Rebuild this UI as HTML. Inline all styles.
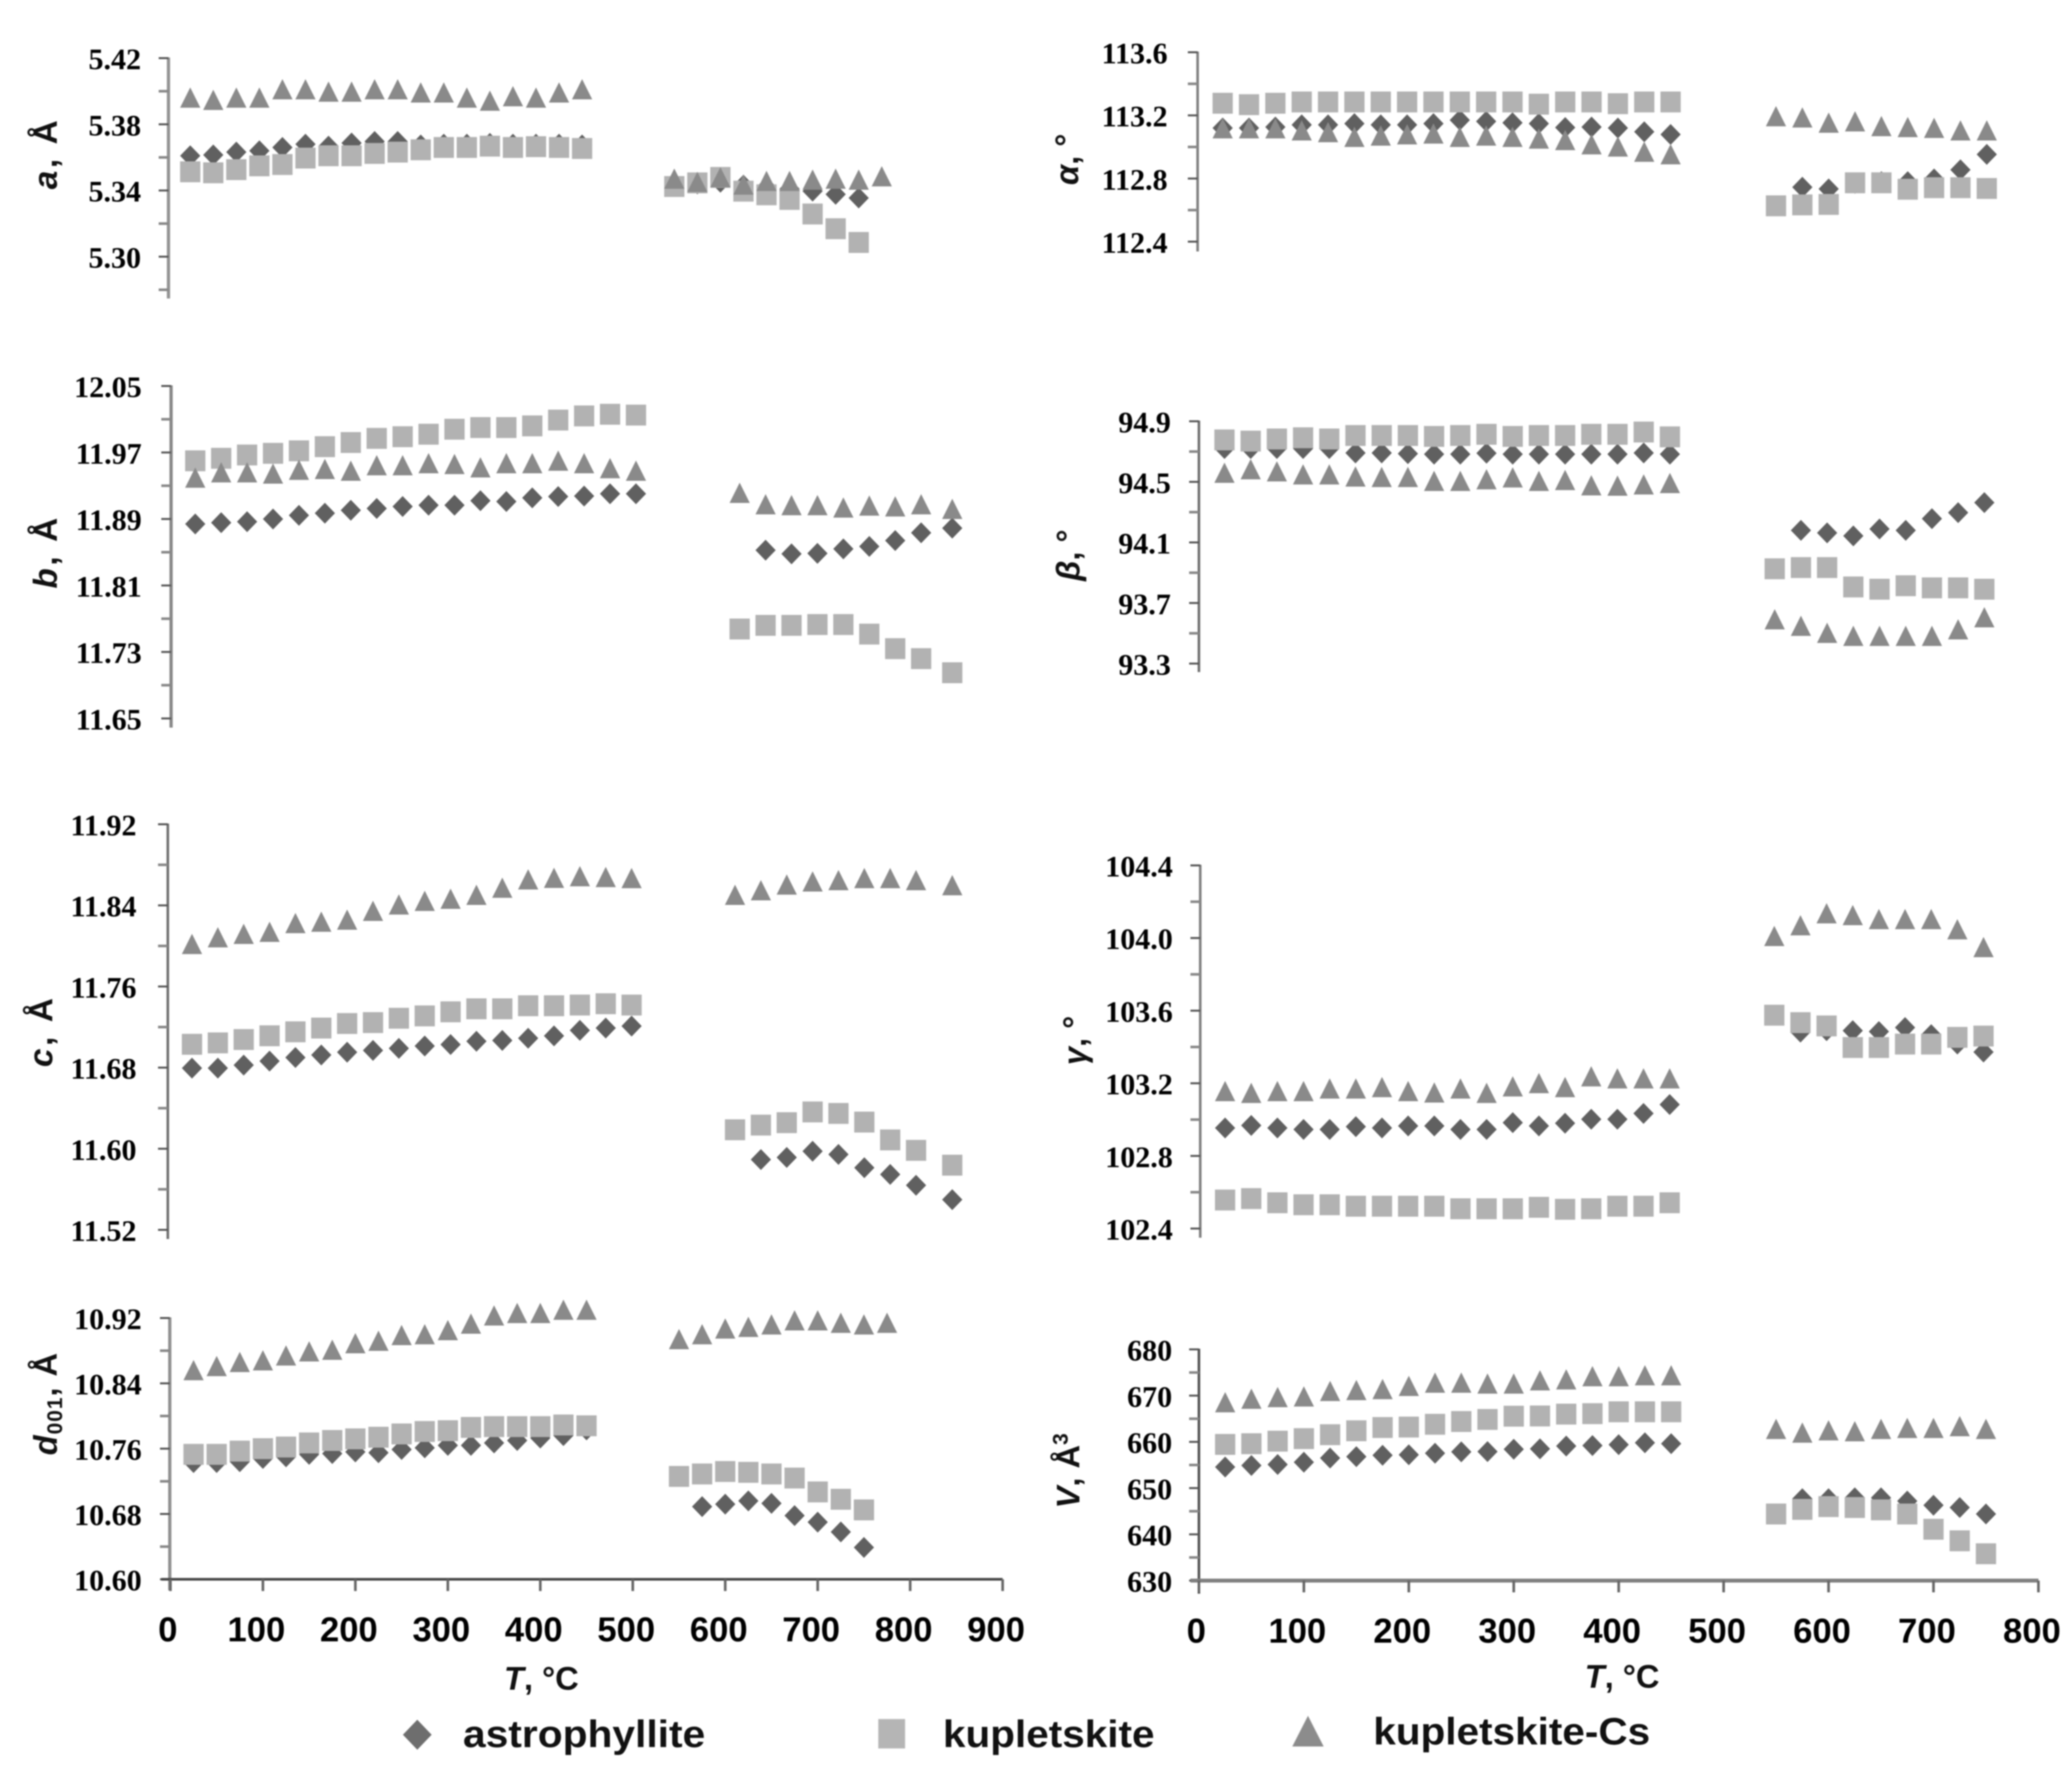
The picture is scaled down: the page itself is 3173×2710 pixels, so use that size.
<!DOCTYPE html>
<html lang="en">
<head>
<meta charset="utf-8">
<title>Unit-cell parameters vs temperature</title>
<style>
html,body{margin:0;padding:0;background:#fff;width:3173px;height:2710px;overflow:hidden}
svg{display:block;filter:blur(1.1px)}
.yt{font-family:"Liberation Serif",serif;font-weight:700;font-size:46px;fill:#000;text-anchor:end}
.xt{font-family:"Liberation Sans",sans-serif;font-weight:700;font-size:53px;fill:#000;text-anchor:middle}
.ttl{font-family:"Liberation Sans","DejaVu Sans",sans-serif;font-weight:700;font-size:50px;fill:#111;text-anchor:middle}
.wide{letter-spacing:4px;font-size:51px}
.leg{font-family:"Liberation Sans",sans-serif;font-weight:700;font-size:58px;fill:#111}
</style>
</head>
<body>
<svg id="chart" xmlns="http://www.w3.org/2000/svg" width="3173" height="2710" viewBox="0 0 3173 2710">
  <rect width="3173" height="2710" fill="#fff"/>
  <text class="ttl wide" transform="translate(87 235) rotate(-90)"><tspan font-style="italic">a</tspan>, Å</text>
  <text class="ttl wide" transform="translate(87 845) rotate(-90)"><tspan font-style="italic">b</tspan>, Å</text>
  <text class="ttl wide" transform="translate(80 1579) rotate(-90)"><tspan font-style="italic">c</tspan>, Å</text>
  <text class="ttl" transform="translate(87 2149) rotate(-90)" letter-spacing="1.5"><tspan font-style="italic">d</tspan><tspan font-size="32" dy="8">001</tspan><tspan dy="-8">, Å</tspan></text>
  <text class="ttl" transform="translate(1651 244) rotate(-90)"><tspan font-style="italic">α</tspan>, °</text>
  <text class="ttl" transform="translate(1653 850) rotate(-90)"><tspan font-style="italic">β</tspan>, °</text>
  <text class="ttl" transform="translate(1663 1593) rotate(-90)"><tspan font-style="italic">γ</tspan>, °</text>
  <text class="ttl" transform="translate(1653 2252) rotate(-90)"><tspan font-style="italic">V</tspan>, Å<tspan font-size="32" dy="-18">3</tspan></text>

  <text class="ttl" x="829" y="2587"><tspan font-style="italic">T</tspan>, °C</text>
  <text class="ttl" x="2484" y="2584"><tspan font-style="italic">T</tspan>, °C</text>

  <g>
    <polygon points="639,2633 661,2656 639,2679 617,2656" fill="#6e6e6e"/>
    <text class="leg" x="709" y="2675" textLength="371" lengthAdjust="spacingAndGlyphs">astrophyllite</text>
    <rect x="1345" y="2632" width="41" height="45" fill="#b5b5b5"/>
    <text class="leg" x="1444" y="2675" textLength="324" lengthAdjust="spacingAndGlyphs">kupletskite</text>
    <polygon points="2003,2627 2027,2674 1979,2674" fill="#8c8c8c"/>
    <text class="leg" x="2103" y="2671" textLength="424" lengthAdjust="spacingAndGlyphs">kupletskite-Cs</text>
  </g>
</svg>
<script>
// ---- temperatures (°C)
const T_LOW = [25,50,75,100,125,150,175,200,225,250,275,300,325,350,375,400,425,450];
const T_HIGH_550 = [550,575,600,625,650,675,700,725,750];
const T_HIGH_575 = [575,600,625,650,675,700,725,750];
const T_HIGH_775 = [550,575,600,625,650,675,700,725,750,775];
const T_B_550 = [550,575,600,625,650,675,700,725,755];
const T_B_575 = [575,600,625,650,675,700,725,755];
const T_C_550 = [550,575,600,625,650,675,700,725,760];
const T_C_575 = [575,600,625,650,675,700,725,760];

// ---- tick labels
const ticksA = ["5.42","5.38","5.34","5.30"];
const ticksB = ["12.05","11.97","11.89","11.81","11.73","11.65"];
const ticksC = ["11.92","11.84","11.76","11.68","11.60","11.52"];
const ticksD = ["10.92","10.84","10.76","10.68","10.60"];
const ticksAlpha = ["113.6","113.2","112.8","112.4"];
const ticksBeta = ["94.9","94.5","94.1","93.7","93.3"];
const ticksGamma = ["104.4","104.0","103.6","103.2","102.8","102.4"];
const ticksV = ["680","670","660","650","640","630"];
const xTicksLeft = [0,100,200,300,400,500,600,700,800,900];
const xTicksRight = [0,100,200,300,400,500,600,700,800];

// ---- a
const aAstroLow = [5.361,5.3615,5.3632,5.364,5.366,5.368,5.3668,5.3687,5.3696,5.3696,5.3675,5.368,5.368,5.3685,5.368,5.368,5.368,5.3675];
const aKupLow = [5.3513,5.3507,5.3526,5.3549,5.3557,5.3596,5.361,5.361,5.3624,5.3632,5.3646,5.366,5.366,5.3668,5.366,5.3665,5.366,5.3654];
const aCsLow = [5.3956,5.3942,5.3956,5.3956,5.4006,5.4006,5.3992,5.3992,5.4006,5.4006,5.3987,5.3987,5.3956,5.3937,5.3964,5.3956,5.3987,5.4006];
const aAstroHigh = [5.344,5.345,5.3432,5.342,5.341,5.3396,5.3377,5.3355];
const aKupHigh = [5.3424,5.3446,5.3479,5.3396,5.3374,5.3346,5.3258,5.3169,5.3086];
const aCsHigh = [5.3466,5.3446,5.3474,5.343,5.3452,5.3452,5.346,5.3466,5.346,5.348];

// ---- b
const bAstroLow = [11.884,11.8856,11.8867,11.89,11.8944,11.897,11.9005,11.9027,11.905,11.9066,11.9066,11.912,11.911,11.9154,11.917,11.9176,11.9203,11.9203];
const bKupLow = [11.96,11.963,11.967,11.969,11.972,11.977,11.982,11.987,11.989,11.992,11.998,12.0,12.0,12.002,12.009,12.014,12.016,12.015];
const bCsLow = [11.9386,11.945,11.945,11.9435,11.948,11.949,11.947,11.9535,11.9535,11.956,11.955,11.951,11.956,11.956,11.959,11.956,11.95,11.947];
const bAstroHigh = [11.8525,11.848,11.8486,11.854,11.857,11.864,11.8734,11.879];
const bKupHigh = [11.7576,11.762,11.762,11.763,11.763,11.7515,11.734,11.722,11.705];
const bCsHigh = [11.9203,11.9066,11.9055,11.9055,11.9027,11.905,11.904,11.9066,11.901];

// ---- c
const cAstroLow = [11.6795,11.6795,11.6825,11.6864,11.69,11.6925,11.6952,11.697,11.699,11.7013,11.7028,11.706,11.7068,11.709,11.7113,11.7168,11.719,11.721];
const cKupLow = [11.703,11.7044,11.7077,11.7114,11.7153,11.719,11.7235,11.7244,11.7287,11.731,11.735,11.738,11.738,11.741,11.741,11.7417,11.743,11.7417];
const cCsLow = [11.801,11.8076,11.811,11.813,11.8216,11.823,11.825,11.8337,11.84,11.8435,11.8456,11.8495,11.8565,11.8647,11.8662,11.8678,11.867,11.866];
const cAstroHigh = [11.5893,11.5914,11.5975,11.5944,11.5813,11.5747,11.564,11.5498];
const cKupHigh = [11.6187,11.6233,11.6257,11.6363,11.6348,11.6263,11.6087,11.5984,11.5838];
const cCsHigh = [11.8495,11.854,11.8596,11.8627,11.864,11.866,11.866,11.864,11.859];

// ---- d001
const dAstroLow = [10.743,10.743,10.744,10.748,10.75,10.753,10.754,10.756,10.755,10.759,10.761,10.764,10.764,10.767,10.77,10.773,10.776,10.783];
const dKupLow = [10.753,10.753,10.757,10.76,10.762,10.767,10.77,10.772,10.774,10.778,10.781,10.782,10.786,10.787,10.787,10.787,10.789,10.788];
const dCsLow = [10.855,10.86,10.865,10.867,10.873,10.878,10.88,10.888,10.891,10.898,10.899,10.904,10.912,10.922,10.925,10.925,10.929,10.929];
const dAstroHigh = [10.689,10.692,10.696,10.693,10.678,10.67,10.658,10.639];
const dKupHigh = [10.726,10.729,10.732,10.731,10.729,10.724,10.707,10.698,10.685];
const dCsHigh = [10.893,10.899,10.906,10.908,10.911,10.916,10.916,10.913,10.911,10.913];

// ---- alpha
const alphaAstroLow = [113.12,113.12,113.126,113.14,113.14,113.148,113.14,113.14,113.148,113.17,113.162,113.153,113.148,113.123,113.126,113.12,113.096,113.079];
const alphaKupLow = [113.277,113.268,113.277,113.285,113.285,113.285,113.285,113.285,113.285,113.285,113.285,113.285,113.271,113.285,113.285,113.274,113.285,113.285];
const alphaCsLow = [113.112,113.112,113.112,113.099,113.088,113.058,113.066,113.074,113.079,113.058,113.066,113.058,113.047,113.038,113.011,112.997,112.964,112.948];
const alphaAstroHigh = [112.745,112.734,112.77,112.78,112.78,112.797,112.855,112.953];
const alphaKupHigh = [112.627,112.633,112.636,112.773,112.773,112.732,112.742,112.742,112.737];
const alphaCsHigh = [113.189,113.181,113.148,113.156,113.126,113.12,113.115,113.099,113.099];

// ---- beta
const betaAstroLow = [94.72,94.72,94.72,94.72,94.72,94.691,94.691,94.686,94.683,94.683,94.689,94.683,94.683,94.683,94.683,94.683,94.691,94.683];
const betaKupLow = [94.777,94.769,94.783,94.791,94.783,94.806,94.806,94.806,94.8,94.806,94.814,94.8,94.806,94.806,94.814,94.814,94.829,94.797];
const betaCsLow = [94.554,94.577,94.563,94.543,94.543,94.529,94.526,94.526,94.5,94.5,94.511,94.523,94.5,94.506,94.471,94.469,94.477,94.486];
const betaAstroHigh = [94.18,94.163,94.143,94.189,94.18,94.257,94.297,94.363];
const betaKupHigh = [93.926,93.934,93.934,93.806,93.791,93.814,93.8,93.8,93.791];
const betaCsHigh = [93.586,93.543,93.497,93.477,93.477,93.477,93.477,93.52,93.6];

// ---- gamma
const gammaAstroLow = [102.954,102.968,102.954,102.946,102.946,102.961,102.954,102.965,102.965,102.946,102.946,102.983,102.965,102.98,103.002,103.002,103.034,103.083];
const gammaKupLow = [102.557,102.565,102.542,102.531,102.531,102.523,102.523,102.523,102.523,102.509,102.509,102.509,102.517,102.506,102.509,102.523,102.523,102.542];
const gammaCsLow = [103.152,103.142,103.152,103.152,103.166,103.166,103.174,103.152,103.144,103.166,103.142,103.178,103.196,103.174,103.233,103.222,103.222,103.222];
const gammaAstroHigh = [103.482,103.49,103.49,103.485,103.507,103.468,103.416,103.372];
const gammaKupHigh = [103.575,103.534,103.516,103.397,103.397,103.416,103.416,103.453,103.46];
const gammaCsHigh = [104.006,104.065,104.131,104.121,104.099,104.099,104.099,104.043,103.945];

// ---- volume
const vAstroLow = [654.55,654.9,655.1,655.6,656.5,656.8,657.1,657.2,657.55,657.85,657.9,658.4,658.5,659.1,659.2,659.4,659.8,659.6];
const vKupLow = [659.45,659.6,660.15,660.7,661.55,662.4,663.1,663.2,663.8,664.4,664.85,665.55,665.6,666,666.1,666.5,666.5,666.5];
const vCsLow = [668.36,669.13,669.48,669.62,670.8,671,671.2,671.9,672.6,672.6,672.4,672.4,673.1,673.3,674,674,674.2,674.2];
const vAstroHigh = [647.7,647.7,647.9,647.9,647.2,646.3,645.8,644.4];
const vKupHigh = [644.4,645.4,646,645.8,645.3,644.4,641.1,638.6,635.8];
const vCsHigh = [662.6,661.8,662.3,662.1,662.6,662.8,662.8,663.2,662.6];

const SVGNS = 'http://www.w3.org/2000/svg';
const root = document.getElementById('chart');

function mk(tag, attrs, parent) {
  const el = document.createElementNS(SVGNS, tag);
  for (const k in attrs) el.setAttribute(k, attrs[k]);
  parent.appendChild(el);
  return el;
}

function drawDiamond(g, x, y) {
  const el = mk('polygon', {points: [x, y - 16, x + 15.5, y, x, y + 16, x - 15.5, y].join(' '), fill: '#606060'}, g);
  
  
}
function drawSquare(g, x, y) {
  const el = mk('rect', {x: x - 15.5, y: y - 16, width: 31, height: 32, fill: '#b2b2b2'}, g);
  
  
}
function drawTriangle(g, x, y) {
  const el = mk('polygon', {points: [x, y - 17, x + 15.5, y + 14, x - 15.5, y + 14].join(' '), fill: '#8a8a8a'}, g);
  
  
}

function drawPanel(p) {
  const g = mk('g', {}, root);
  
  

  const vTop = parseFloat(p.ticks[0]);
  const vBot = parseFloat(p.ticks[p.ticks.length - 1]);
  const yScale = v => p.yTop + (vTop - v) * (p.yBot - p.yTop) / (vTop - vBot);
  const xScale = t => p.x0 + t * p.slope;

  // y axis line
  const axis = mk('line', {x1: p.axisX, x2: p.axisX, y1: p.yTop - 1, y2: p.axisEnd, stroke: p.axisColor, 'stroke-width': p.axisWidth}, g);
  
  

  // ticks + labels
  p.ticks.forEach((lab, i) => {
    const v = parseFloat(lab);
    const y = yScale(v);
    const tick = mk('line', {x1: p.axisX - 15, x2: p.axisX, y1: y, y2: y, stroke: '#555', 'stroke-width': 3}, g);
    
    
    const t = mk('text', {x: p.labelRight, y: y + 17, class: 'yt'}, g);
    
    
    t.textContent = lab;
    const next = i < p.ticks.length - 1 ? parseFloat(p.ticks[i + 1]) : null;
    const step = parseFloat(p.ticks[0]) - parseFloat(p.ticks[1]);
    const mid = next !== null ? (v + next) / 2 : (p.axisEnd > yScale(v - step / 2) ? v - step / 2 : null);
    if (mid !== null) {
      const my = yScale(mid);
      const minor = mk('line', {x1: p.axisX - 15, x2: p.axisX, y1: my, y2: my, stroke: '#888', 'stroke-width': 4}, g);
      
      
    }
  });

  // x axis (bottom panels)
  if (p.xTicks) {
    const base = yScale(vBot);
    const xl = mk('line', {x1: p.axisX - 13, x2: xScale(p.xTicks[p.xTicks.length - 1]), y1: base, y2: base, stroke: p.xAxisColor, 'stroke-width': p.xAxisWidth}, g);
    
    
    p.xTicks.forEach(t => {
      const x = xScale(t);
      const tk = mk('line', {x1: x, x2: x, y1: base, y2: base + 18, stroke: '#666', 'stroke-width': 4}, g);
      
      
      const lb = mk('text', {x: x - (t === 0 ? 4 : 10), y: p.xLabelY, class: 'xt'}, g);
      
      
      lb.textContent = t;
    });
  }

  // marks: astrophyllite below, kupletskite above it, kupletskite-Cs on top
  p.astro.forEach(s => s.t.forEach((t, i) => drawDiamond(g, xScale(t), yScale(s.v[i]))));
  p.kup.forEach(s => s.t.forEach((t, i) => drawSquare(g, xScale(t), yScale(s.v[i]))));
  p.cs.forEach(s => s.t.forEach((t, i) => drawTriangle(g, xScale(t), yScale(s.v[i]))));
}

drawPanel({name:'a', ticks:ticksA, yTop:89, yBot:393, axisX:258, axisColor:'#949494', axisWidth:5, axisEnd:457, labelRight:216, x0:256, slope:1.412,
  astro:[{t:T_LOW,v:aAstroLow},{t:T_HIGH_575,v:aAstroHigh}],
  kup:[{t:T_LOW,v:aKupLow},{t:T_HIGH_550,v:aKupHigh}],
  cs:[{t:T_LOW,v:aCsLow},{t:T_HIGH_775,v:aCsHigh}]});
drawPanel({name:'b', ticks:ticksB, yTop:591, yBot:1100, axisX:262, axisColor:'#888', axisWidth:5, axisEnd:1114, labelRight:217, x0:259.3, slope:1.588,
  astro:[{t:T_LOW,v:bAstroLow},{t:T_B_575,v:bAstroHigh}],
  kup:[{t:T_LOW,v:bKupLow},{t:T_B_550,v:bKupHigh}],
  cs:[{t:T_LOW,v:bCsLow},{t:T_B_550,v:bCsHigh}]});
drawPanel({name:'c', ticks:ticksC, yTop:1262, yBot:1883, axisX:257, axisColor:'#707070', axisWidth:4, axisEnd:1897, labelRight:209, x0:254.4, slope:1.584,
  astro:[{t:T_LOW,v:cAstroLow},{t:T_C_575,v:cAstroHigh}],
  kup:[{t:T_LOW,v:cKupLow},{t:T_C_550,v:cKupHigh}],
  cs:[{t:T_LOW,v:cCsLow},{t:T_C_550,v:cCsHigh}]});
drawPanel({name:'d001', ticks:ticksD, yTop:2018, yBot:2418, axisX:260, axisColor:'#909090', axisWidth:5, axisEnd:2435, labelRight:217, x0:261, slope:1.416,
  xTicks:xTicksLeft, xLabelY:2513, xAxisColor:'#444', xAxisWidth:4,
  astro:[{t:T_LOW,v:dAstroLow},{t:T_HIGH_575,v:dAstroHigh}],
  kup:[{t:T_LOW,v:dKupLow},{t:T_HIGH_550,v:dKupHigh}],
  cs:[{t:T_LOW,v:dCsLow},{t:T_HIGH_775,v:dCsHigh}]});
drawPanel({name:'alpha', ticks:ticksAlpha, yTop:80, yBot:370, axisX:1834, axisColor:'#808080', axisWidth:4, axisEnd:385, labelRight:1788, x0:1832, slope:1.614,
  astro:[{t:T_LOW,v:alphaAstroLow},{t:T_HIGH_575,v:alphaAstroHigh}],
  kup:[{t:T_LOW,v:alphaKupLow},{t:T_HIGH_550,v:alphaKupHigh}],
  cs:[{t:T_LOW,v:alphaCsLow},{t:T_HIGH_550,v:alphaCsHigh}]});
drawPanel({name:'beta', ticks:ticksBeta, yTop:645, yBot:1016, axisX:1836, axisColor:'#707070', axisWidth:4, axisEnd:1029, labelRight:1793, x0:1835, slope:1.605,
  astro:[{t:T_LOW,v:betaAstroLow},{t:T_HIGH_575,v:betaAstroHigh}],
  kup:[{t:T_LOW,v:betaKupLow},{t:T_HIGH_550,v:betaKupHigh}],
  cs:[{t:T_LOW,v:betaCsLow},{t:T_HIGH_550,v:betaCsHigh}]});
drawPanel({name:'gamma', ticks:ticksGamma, yTop:1325, yBot:1881, axisX:1838, axisColor:'#808080', axisWidth:4, axisEnd:1895, labelRight:1796, x0:1836, slope:1.602,
  astro:[{t:T_LOW,v:gammaAstroLow},{t:T_HIGH_575,v:gammaAstroHigh}],
  kup:[{t:T_LOW,v:gammaKupLow},{t:T_HIGH_550,v:gammaKupHigh}],
  cs:[{t:T_LOW,v:gammaCsLow},{t:T_HIGH_550,v:gammaCsHigh}]});
drawPanel({name:'volume', ticks:ticksV, yTop:2066, yBot:2420, axisX:1836, axisColor:'#555', axisWidth:4, axisEnd:2440, labelRight:1795, x0:1836, slope:1.607,
  xTicks:xTicksRight, xLabelY:2515, xAxisColor:'#808080', xAxisWidth:6,
  astro:[{t:T_LOW,v:vAstroLow},{t:T_HIGH_575,v:vAstroHigh}],
  kup:[{t:T_LOW,v:vKupLow},{t:T_HIGH_550,v:vKupHigh}],
  cs:[{t:T_LOW,v:vCsLow},{t:T_HIGH_550,v:vCsHigh}]});
</script>
</body>
</html>
